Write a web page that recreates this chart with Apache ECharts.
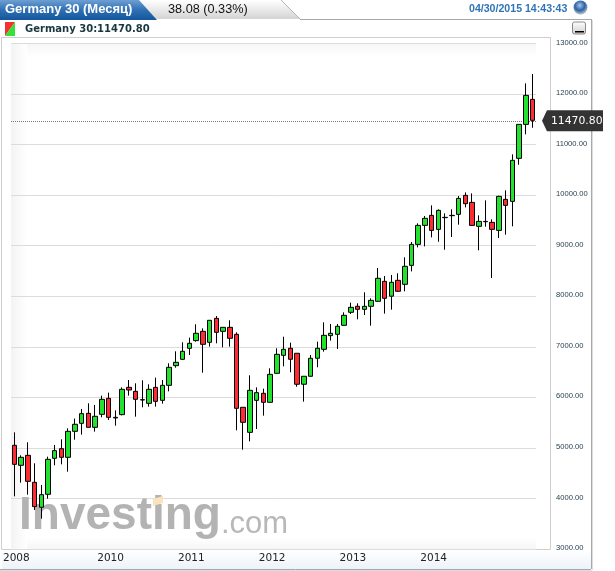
<!DOCTYPE html>
<html>
<head>
<meta charset="utf-8">
<style>html,body{margin:0;padding:0;background:#fff}#c{width:615px;height:571px}</style>
<script src="https://cdn.jsdelivr.net/npm/echarts@6/dist/echarts.min.js"></script>
</head>
<body>
<div id="c"></div>
<script>
const startYear = 2008, startMonth = 11, monthCount = 78;
const yearLabelMonths = ['2008-11', '2010-01', '2011-01', '2012-01', '2013-01', '2014-01'];
const lastPrice = 11470.80;
const opens = [5051,4656,4853,4319,3825,4082,4794,4985,4814,5328,5486,5684,5407,5664,5981,5605,5658,6198,6119,5954,5882,6198,5941,6238,6627,6752,6970,7122,7306,7089,7563,7306,7385,7247,5803,5308,5941,6080,5902,6475,6831,6971,6872,6259,6417,6773,6950,7221,7247,7425,7682,7801,7741,7801,7900,8295,8001,8315,8236,8611,9026,9402,9600,9323,9555,9594,9620,9996,9857,9383,9474,9462,9303,9917,9877,10728,11400,11895];
const closes = [4675,4814,4339,3838,4075,4774,4946,4814,5328,5467,5678,5407,5625,5961,5605,5592,6159,6146,5961,5948,6159,5921,6238,6594,6693,6911,7069,7267,7049,7524,7286,7385,7168,5783,5506,6139,6093,5902,6455,6851,6950,6753,6259,6417,6773,6971,7227,7267,7405,7623,7781,7741,7801,7919,8355,7959,8276,8098,8592,9026,9402,9541,9303,9699,9561,9600,9936,9831,9402,9481,9481,9323,9976,9798,10688,11400,11974,11480];
const lows = [4042,4313,4075,3772,3600,3996,4656,4675,4530,5163,5262,5407,5322,5605,5552,5440,5644,6034,5618,5803,5816,5816,5875,6119,6587,6739,6838,7102,6488,7003,7069,6990,7003,5348,4965,5130,5374,5638,5902,6475,6614,6496,6211,5915,6423,6595,6904,7122,6957,7418,7649,7544,7629,7418,7893,7656,7735,8091,8098,8492,8967,8987,9165,9079,8921,9172,9416,9758,9396,8908,9376,8361,9152,9218,9383,10602,11203,11334];
const highs = [5308,4853,5111,4695,4267,4827,5058,5170,5387,5579,5770,5882,5849,6034,6093,5743,6198,6343,6278,6337,6258,6390,6343,6673,6911,7089,7181,7445,7365,7524,7609,7385,7524,7286,5803,6436,6198,6172,6574,6970,7200,7082,6872,6417,6838,7102,7484,7451,7451,7682,7873,7860,8078,7959,8559,8401,8421,8454,8770,9073,9442,9587,9798,9719,9640,9719,9983,10055,10035,9600,9897,9521,9989,10095,10807,11400,12211,12396];
const yTicks = {min: 3000, max: 13000, step: 1000};

const categories = [];
for (let i = 0; i < monthCount; i++) {
  const m = startMonth - 1 + i;
  const y = startYear + Math.floor(m / 12);
  categories.push(y + '-' + String(m % 12 + 1).padStart(2, '0'));
}
const candleData = categories.map((c, i) => [opens[i], closes[i], lows[i], highs[i]]);

const chart = echarts.init(document.getElementById('c'), null, {renderer: 'canvas'});
const back = -20;
function lin(stops, x2, y2) {
  return {type: 'linear', x: 0, y: 0, x2: x2, y2: y2, colorStops: stops.map((c, i) => ({offset: i / (stops.length - 1), color: c}))};
}
function rect(x, y, w, h, fill, z) {
  return {type: 'rect', silent: true, z: z === undefined ? back : z, shape: {x, y, width: w, height: h}, style: {fill}};
}
function poly(points, fill, z) {
  return {type: 'polygon', silent: true, z: z === undefined ? back : z, shape: {points}, style: {fill}};
}
function line(x1, y1, x2, y2, stroke, z) {
  return {type: 'line', silent: true, z: z === undefined ? back + 1 : z, shape: {x1, y1, x2, y2}, style: {stroke, lineWidth: 1}};
}
function text(x, y, str, font, fill, z, align) {
  return {type: 'text', silent: true, z: z === undefined ? 10 : z, x, y, style: {text: str, font, fill, align: align || 'left', verticalAlign: 'middle'}};
}
const elements = [
  // tabs in the header
  poly([[281, 0], [300, 19], [140, 19], [140, 0]], lin(['#ffffff', '#d4d4d4'], 0, 1)),
  poly([[0, 0], [139, 0], [157, 20], [0, 20]], lin(['#6f9fd2', '#2f70b4', '#14569b'], 0, 1), back + 1),
  line(281, 0, 300, 19, '#b4b4b4'),
  line(300, 19.5, 591, 19.5, '#a8a8a8'),
  line(591.5, 19, 591.5, 569, '#a8a8a8'),
  line(592.5, 20, 592.5, 570, '#dddddd'),
  line(0, 569.5, 591, 569.5, '#a8a8a8'),
  line(0, 570.5, 592, 570.5, '#dddddd'),
  // inner panel
  line(1.5, 37.5, 550.5, 37.5, '#cfcfcf'),
  line(1.5, 37, 1.5, 549, '#cfcfcf'),
  line(550.5, 37, 550.5, 549.5, '#cfcfcf'),
  line(1.5, 549.5, 550.5, 549.5, '#cfcfcf'),
  rect(2, 550, 589, 19, lin(['#ffffff', '#edf2fa'], 0, 1)),
  // shading of the plot
  rect(11, 43, 525, 14, lin(['#f6f6f6', '#ffffff'], 0, 1)),
  rect(11, 43, 16, 506, lin(['#f3f3f3', '#ffffff'], 1, 0), back + 1),
  rect(11, 538, 525, 11, lin(['#ffffff', '#f6f6f6'], 0, 1)),
  // watermark
  text(19, 516, 'Investing', 'bold 46px "Liberation Sans"', '#b3b3b3', 1),
  poly([[153, 499], [163, 496], [163, 503], [153, 506]], '#fbe3bc', 1),
  text(221, 524, '.com', '31px "Liberation Sans"', '#b8b8b8', 1),
  // header texts
  text(5, 9.5, 'Germany 30 (Месяц)', 'bold 13px "Liberation Sans"', '#ffffff'),
  text(168, 9.5, '38.08 (0.33%)', '12.7px "Liberation Sans"', '#111111'),
  text(469, 9.5, '04/30/2015 14:43:43', 'bold 10.6px "Liberation Sans"', '#2f75b5'),
  text(25, 29, 'Germany 30:11470.80', 'bold 10px "DejaVu Sans"', '#17363f'),
  // icons
  poly([[5, 22], [15, 22], [5, 36]], '#f5302f', 5),
  poly([[15, 22], [15, 36], [5, 36]], '#34e23a', 5),
  {type: 'circle', silent: true, z: 5, shape: {cx: 580.5, cy: 7.5, r: 7}, style: {fill: {type: 'radial', x: 0.45, y: 0.35, r: 0.6, colorStops: [{offset: 0, color: '#a5c4e6'}, {offset: 0.6, color: '#2a62a6'}, {offset: 1, color: '#aab4c2'}]}}},
  {type: 'rect', silent: true, z: 5, shape: {x: 572.5, y: 22, width: 13, height: 12, r: 2}, style: {fill: lin(['#ffffff', '#cfcfcf'], 0, 1), stroke: '#8a8a8a', lineWidth: 1}},
  rect(575, 31, 9, 1.5, '#000000', 6)
];

chart.setOption({
  animation: false,
  backgroundColor: '#ffffff',
  graphic: {elements},
  grid: {left: 11, width: 525, top: 43.5, height: 505.5, containLabel: false},
  xAxis: {
    type: 'category',
    data: categories,
    boundaryGap: true,
    axisLine: {show: false},
    axisTick: {show: false},
    splitLine: {show: false},
    axisLabel: {
      interval: (i, v) => yearLabelMonths.includes(v),
      formatter: v => v.slice(0, 4),
      fontFamily: 'DejaVu Sans',
      fontSize: 10.5,
      color: '#222222',
      margin: 4,
      padding: [0, 0, 0, 4]
    }
  },
  yAxis: {
    type: 'value',
    min: yTicks.min,
    max: yTicks.max,
    interval: yTicks.step,
    position: 'right',
    axisLine: {show: false},
    axisTick: {show: false},
    splitLine: {show: true, lineStyle: {color: '#dcdcdc', width: 1}},
    axisLabel: {
      formatter: v => v.toFixed(2),
      fontFamily: 'Liberation Sans',
      fontSize: 7.6,
      color: '#1f3a4a',
      margin: 20,
      align: 'left',
      verticalAlign: 'bottom',
      lineHeight: 2
    }
  },
  series: [
    {
      type: 'candlestick',
      data: candleData,
      barWidth: 5,
      z: 3,
      itemStyle: {color: '#22e22e', color0: '#ff2b33', borderColor: '#000000', borderColor0: '#000000', borderWidth: 1},
      markLine: {
        silent: true,
        symbol: 'none',
        z: 2,
        label: {show: false},
        lineStyle: {type: [1, 1], color: '#777777', width: 1},
        data: [{yAxis: lastPrice}]
      }
    },
    {
      type: 'custom',
      clip: false,
      silent: true,
      z: 20,
      data: [[categories[monthCount - 1], lastPrice]],
      renderItem: (params, api) => {
        const y = api.coord([api.value(0), api.value(1)])[1];
        return {
          type: 'group',
          children: [
            {type: 'polygon', shape: {points: [[542, y], [547, y - 10.5], [603, y - 10.5], [603, y + 10.5], [547, y + 10.5]]}, style: {fill: '#333333'}},
            {type: 'text', x: 551, y: y, style: {text: lastPrice.toFixed(2), font: '10.8px "DejaVu Sans"', fill: '#ffffff', align: 'left', verticalAlign: 'middle'}}
          ]
        };
      }
    }
  ]
});
</script>
</body>
</html>
